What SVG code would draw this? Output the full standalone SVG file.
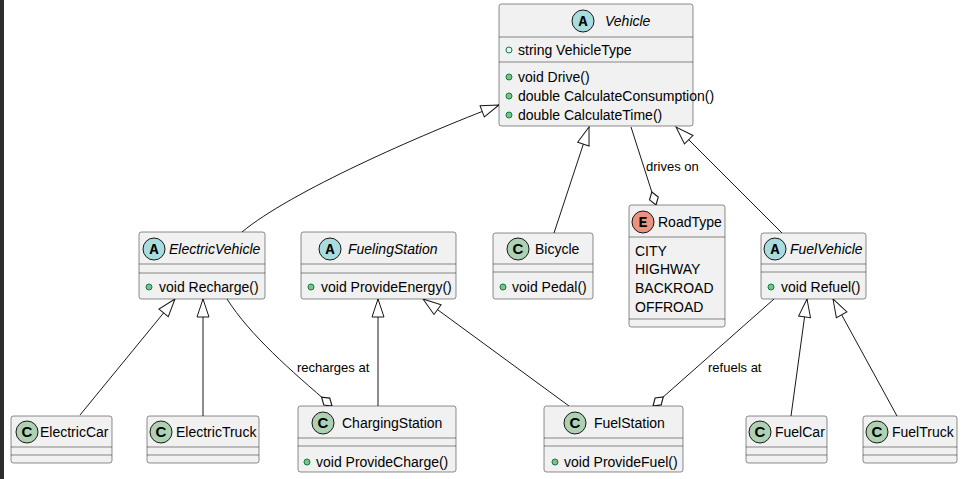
<svg xmlns="http://www.w3.org/2000/svg" width="963" height="479" viewBox="0 0 963 479">
<defs>
<style>
.box{fill:#F1F1F1;stroke:#181818;stroke-width:0.5}
.sep{stroke:#181818;stroke-width:0.5}
.t{font-family:"Liberation Sans",Arial,sans-serif;font-size:14px;fill:#000}
.it{font-style:italic}
.lbl{font-family:"Liberation Sans",Arial,sans-serif;font-size:13px;fill:#000}
.cC{fill:#ADD1B2;stroke:#181818;stroke-width:1}
.cA{fill:#A9DCDF;stroke:#181818;stroke-width:1}
.cE{fill:#EB937F;stroke:#181818;stroke-width:1}
.ltr{font-family:"Liberation Mono",monospace;font-size:15px;font-weight:bold;fill:#000;text-anchor:middle}
.ltrC{font-family:"Liberation Sans",Arial,sans-serif;font-size:15px;font-weight:bold;fill:#000;text-anchor:middle}
.pm{fill:#84BE84;stroke:#038048;stroke-width:1}
.pf{fill:none;stroke:#038048;stroke-width:1}
.ln{fill:none;stroke:#181818;stroke-width:1}
.inh{marker-end:url(#tri)}
.agg{marker-end:url(#dia)}
</style>
<marker id="tri" markerUnits="userSpaceOnUse" markerWidth="22" markerHeight="16" viewBox="-19 -8 21 16" refX="0" refY="0" orient="auto" overflow="visible">
<path d="M0,0 L-18,-6 L-18,6 Z" fill="#FFFFFF" stroke="#181818" stroke-width="1"/>
</marker>
<marker id="dia" markerUnits="userSpaceOnUse" markerWidth="16" markerHeight="12" viewBox="-13 -5 14 10" refX="0" refY="0" orient="auto" overflow="visible">
<path d="M0,0 L-6,-4 L-12,0 L-6,4 Z" fill="#FFFFFF" stroke="#181818" stroke-width="1"/>
</marker>
</defs>
<rect x="0" y="0" width="963" height="479" fill="#FFFFFF"/>
<rect x="0" y="0" width="4" height="479" fill="#2E2E2E"/>

<g id="connectors">
<path class="ln inh" d="M242,232 C290,192 420,135 499,105"/>
<path class="ln inh" d="M554,233 L589,127"/>
<path class="ln agg" d="M631,127 L656,205"/>
<text class="lbl" x="646" y="171">drives on</text>
<path class="ln inh" d="M782,233 L676,127"/>
<path class="ln inh" d="M80,415 L175,299"/>
<path class="ln inh" d="M203,416 L203,299"/>
<path class="ln agg" d="M227,299 C250,335 290,370 332,406"/>
<text class="lbl" x="297" y="372">recharges at</text>
<path class="ln inh" d="M378,406 L378,299"/>
<path class="ln inh" d="M569,406 L423,299"/>
<path class="ln agg" d="M774,299 L653,406"/>
<text class="lbl" x="708" y="372">refuels at</text>
<path class="ln inh" d="M791,416 L807,299"/>
<path class="ln inh" d="M897,416 L833,299"/>
</g>

<g id="Vehicle">
<rect class="box" x="499" y="4" width="194" height="122" rx="2.5"/>
<line class="sep" x1="499" y1="37" x2="693" y2="37"/>
<line class="sep" x1="499" y1="62" x2="693" y2="62"/>
<circle class="cA" cx="583" cy="21" r="11"/>
<text class="ltr" x="583" y="26">A</text>
<text class="t it" x="605" y="26">Vehicle</text>
<circle class="pf" cx="509" cy="50" r="3"/>
<text class="t" x="518" y="55">string VehicleType</text>
<circle class="pm" cx="509" cy="77" r="3"/>
<text class="t" x="518" y="82">void Drive()</text>
<circle class="pm" cx="509" cy="96" r="3"/>
<text class="t" x="518" y="101">double CalculateConsumption()</text>
<circle class="pm" cx="509" cy="115" r="3"/>
<text class="t" x="518" y="120">double CalculateTime()</text>
</g>

<g id="ElectricVehicle">
<rect class="box" x="139" y="232" width="126" height="67" rx="2.5"/>
<line class="sep" x1="139" y1="264" x2="265" y2="264"/>
<line class="sep" x1="139" y1="273" x2="265" y2="273"/>
<circle class="cA" cx="154" cy="249" r="11"/>
<text class="ltr" x="154" y="254">A</text>
<text class="t it" x="169" y="254">ElectricVehicle</text>
<circle class="pm" cx="149" cy="287" r="3"/>
<text class="t" x="159" y="292">void Recharge()</text>
</g>

<g id="FuelingStation">
<rect class="box" x="301" y="232" width="155" height="67" rx="2.5"/>
<line class="sep" x1="301" y1="264" x2="456" y2="264"/>
<line class="sep" x1="301" y1="273" x2="456" y2="273"/>
<circle class="cA" cx="330" cy="249" r="11"/>
<text class="ltr" x="330" y="254">A</text>
<text class="t it" x="348" y="254">FuelingStation</text>
<circle class="pm" cx="311" cy="287" r="3"/>
<text class="t" x="321" y="292">void ProvideEnergy()</text>
</g>

<g id="Bicycle">
<rect class="box" x="493" y="233" width="100" height="66" rx="2.5"/>
<line class="sep" x1="493" y1="264" x2="593" y2="264"/>
<line class="sep" x1="493" y1="272" x2="593" y2="272"/>
<circle class="cC" cx="518" cy="249" r="11"/>
<text class="ltrC" x="518" y="254">C</text>
<text class="t" x="535" y="254">Bicycle</text>
<circle class="pm" cx="503" cy="287" r="3"/>
<text class="t" x="512" y="292">void Pedal()</text>
</g>

<g id="RoadType">
<rect class="box" x="629" y="205" width="96" height="122" rx="2.5"/>
<line class="sep" x1="629" y1="237" x2="725" y2="237"/>
<line class="sep" x1="629" y1="319" x2="725" y2="319"/>
<circle class="cE" cx="643" cy="222" r="11"/>
<text class="ltr" x="643" y="227">E</text>
<text class="t" x="658" y="227">RoadType</text>
<text class="t" x="635" y="256">CITY</text>
<text class="t" x="635" y="274">HIGHWAY</text>
<text class="t" x="635" y="293">BACKROAD</text>
<text class="t" x="635" y="312">OFFROAD</text>
</g>

<g id="FuelVehicle">
<rect class="box" x="761" y="233" width="105" height="66" rx="2.5"/>
<line class="sep" x1="761" y1="264" x2="866" y2="264"/>
<line class="sep" x1="761" y1="272" x2="866" y2="272"/>
<circle class="cA" cx="775" cy="249" r="11"/>
<text class="ltr" x="775" y="254">A</text>
<text class="t it" x="790" y="254">FuelVehicle</text>
<circle class="pm" cx="771" cy="287" r="3"/>
<text class="t" x="781" y="292">void Refuel()</text>
</g>

<g id="ElectricCar">
<rect class="box" x="11" y="416" width="101" height="47" rx="2.5"/>
<line class="sep" x1="11" y1="447" x2="112" y2="447"/>
<line class="sep" x1="11" y1="455" x2="112" y2="455"/>
<circle class="cC" cx="27" cy="432" r="11"/>
<text class="ltrC" x="27" y="437">C</text>
<text class="t" x="40" y="437">ElectricCar</text>
</g>

<g id="ElectricTruck">
<rect class="box" x="147" y="416" width="112" height="47" rx="2.5"/>
<line class="sep" x1="147" y1="447" x2="259" y2="447"/>
<line class="sep" x1="147" y1="455" x2="259" y2="455"/>
<circle class="cC" cx="161" cy="432" r="11"/>
<text class="ltrC" x="161" y="437">C</text>
<text class="t" x="176" y="437">ElectricTruck</text>
</g>

<g id="ChargingStation">
<rect class="box" x="298" y="406" width="158" height="66" rx="2.5"/>
<line class="sep" x1="298" y1="438" x2="456" y2="438"/>
<line class="sep" x1="298" y1="446" x2="456" y2="446"/>
<circle class="cC" cx="323" cy="423" r="11"/>
<text class="ltrC" x="323" y="428">C</text>
<text class="t" x="342" y="428">ChargingStation</text>
<circle class="pm" cx="307" cy="462" r="3"/>
<text class="t" x="316" y="467">void ProvideCharge()</text>
</g>

<g id="FuelStation">
<rect class="box" x="544" y="406" width="139" height="66" rx="2.5"/>
<line class="sep" x1="544" y1="438" x2="683" y2="438"/>
<line class="sep" x1="544" y1="446" x2="683" y2="446"/>
<circle class="cC" cx="575" cy="423" r="11"/>
<text class="ltrC" x="575" y="428">C</text>
<text class="t" x="594" y="428">FuelStation</text>
<circle class="pm" cx="555" cy="462" r="3"/>
<text class="t" x="564" y="467">void ProvideFuel()</text>
</g>

<g id="FuelCar">
<rect class="box" x="746" y="416" width="81" height="47" rx="2.5"/>
<line class="sep" x1="746" y1="447" x2="827" y2="447"/>
<line class="sep" x1="746" y1="455" x2="827" y2="455"/>
<circle class="cC" cx="760" cy="432" r="11"/>
<text class="ltrC" x="760" y="437">C</text>
<text class="t" x="775" y="437">FuelCar</text>
</g>

<g id="FuelTruck">
<rect class="box" x="863" y="416" width="94" height="47" rx="2.5"/>
<line class="sep" x1="863" y1="447" x2="957" y2="447"/>
<line class="sep" x1="863" y1="455" x2="957" y2="455"/>
<circle class="cC" cx="877" cy="432" r="11"/>
<text class="ltrC" x="877" y="437">C</text>
<text class="t" x="892" y="437">FuelTruck</text>
</g>
</svg>
